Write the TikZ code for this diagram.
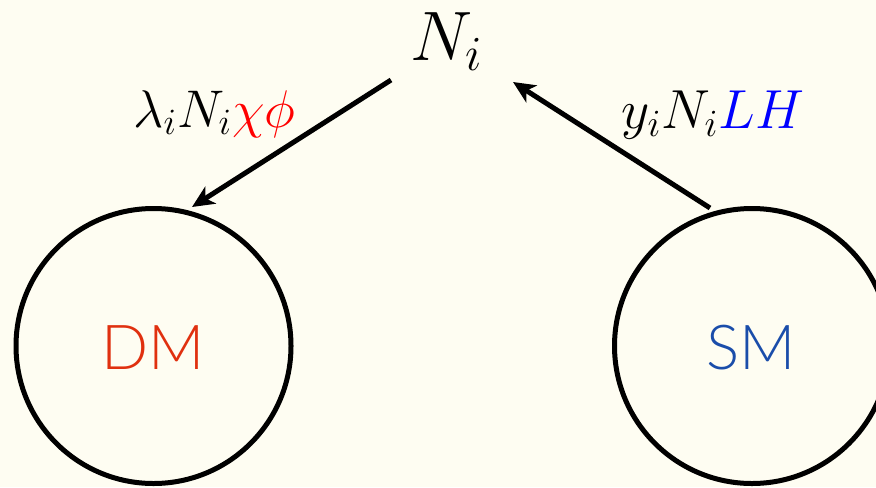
\RequirePackage{fix-cm}
\documentclass[tikz,border=0pt]{standalone}
\usepackage{fontspec}
\usepackage{amsmath}
\newfontfamily\labfont{Lato}[UprightFont={* Light}]
\usetikzlibrary{arrows.meta}
\definecolor{bgcol}{HTML}{FEFDF2}
\definecolor{dmred}{HTML}{E0300F}
\definecolor{smblue}{HTML}{1A4DAA}
\begin{document}
\begin{tikzpicture}[x=0.5pt,y=-0.5pt,
  sector/.style={circle,draw=black,line width=2.5pt,minimum size=137.5pt,inner sep=0pt},
  seclabel/.style={font=\labfont\fontsize{31}{31}\selectfont,anchor=base},
  flow/.style={line width=2.5pt,-{Stealth[length=11pt,width=10pt,inset=3pt]}},
  mathlab/.style={font=\fontsize{26.5}{26.5}\selectfont,anchor=base west,inner sep=0pt}]
\fill[bgcol] (0,0) rectangle (876,487);
\useasboundingbox (0,0) rectangle (876,487);
\node[sector] (dm) at (153.5,346) {};
\node[sector] (sm) at (752,346) {};
\node[seclabel,text=dmred] (dmt) at (153.5,369) {DM};
\node[seclabel,text=smblue] (smt) at (751,369) {SM};
\node[font=\fontsize{35}{35}\selectfont,anchor=base west,inner sep=0pt] (ni) at (410,60) {$N_i$};
\node[mathlab] (l1) at (133,127) {$\lambda_i N_i{\color{red}\chi\phi}$};
\node[mathlab,font=\fontsize{27.5}{27.5}\selectfont] (l2) at (621,128) {$y_i N_i{\color{blue}LH}$};
\coordinate (a1s) at (391,80);
\coordinate (a1e) at (192,207);
\coordinate (a2s) at (710,208);
\coordinate (a2e) at (513,82);
\draw[flow] (a1s) -- (a1e);
\draw[flow] (a2s) -- (a2e);
\end{tikzpicture}
\end{document}
